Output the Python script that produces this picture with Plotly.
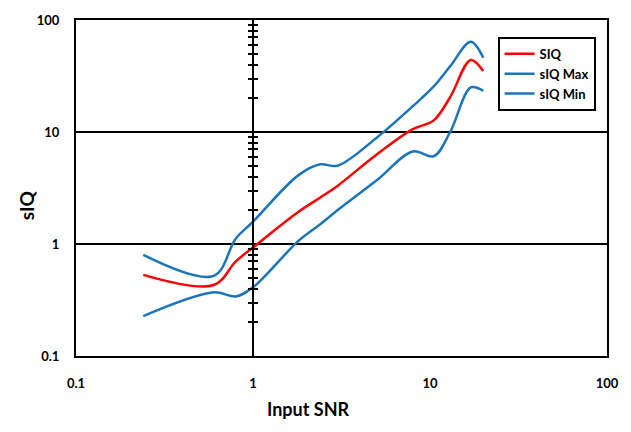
import plotly.graph_objects as go

# ---- data ----
snr = [0.24, 0.6, 0.8, 1.0, 1.8, 2.4, 3.0, 5.0, 8.0, 10.5, 13.0, 17.0, 20.0]
siq = [0.53, 0.43, 0.70, 0.93, 1.93, 2.6, 3.3, 6.3, 10.6, 12.7, 20.5, 44, 35]
siq_max = [0.80, 0.52, 1.12, 1.58, 4.1, 5.15, 5.0, 8.9, 17, 25.5, 38.6, 64, 46]
siq_min = [0.227, 0.37, 0.34, 0.41, 1.06, 1.5, 2.0, 3.7, 6.7, 6.07, 10, 25, 23.3]

tick_vals = [0.1, 1, 10, 100]
tick_text = ["0.1", "1", "10", "100"]
minor_vals = [m * d for d in (0.1, 1, 10) for m in range(2, 10)]

RED = "#FF0000"
BLUE = "#1A75BE"
FONT = "Lato"

fig = go.Figure()
fig.add_trace(go.Scatter(x=snr, y=siq, name="SIQ", mode="lines",
                         line=dict(color=RED, width=2.5, shape="spline")))
fig.add_trace(go.Scatter(x=snr, y=siq_max, name="sIQ Max", mode="lines",
                         line=dict(color=BLUE, width=2.5, shape="spline")))
fig.add_trace(go.Scatter(x=snr, y=siq_min, name="sIQ Min", mode="lines",
                         line=dict(color=BLUE, width=2.5, shape="spline")))
# invisible helpers so the crossing axis at x = 1 is drawn
for ax in ("y2", "y3"):
    fig.add_trace(go.Scatter(x=snr, y=siq, yaxis=ax, mode="lines", opacity=0,
                             showlegend=False, hoverinfo="skip",
                             line=dict(width=0)))

axis_common = dict(type="log", range=[-1, 2])

fig.update_layout(
    width=631, height=432,
    margin=dict(l=76, r=20, t=15, b=76),
    paper_bgcolor="white", plot_bgcolor="white",
    font=dict(family=FONT, color="black"),
    showlegend=True,
    xaxis=dict(**axis_common, tickvals=tick_vals, ticktext=tick_text,
               showgrid=False, zeroline=False, showline=True, mirror=True,
               linecolor="black", linewidth=2, ticks="",
               ticklabelstandoff=14,
               tickfont=dict(family=FONT, size=13, weight="bold")),
    yaxis=dict(**axis_common, tickvals=tick_vals, ticktext=tick_text,
               showgrid=True, gridcolor="black", gridwidth=2,
               zeroline=False, showline=True, mirror=True,
               linecolor="black", linewidth=2, ticks="",
               ticklabelstandoff=12,
               tickfont=dict(family=FONT, size=13, weight="bold")),
    yaxis2=dict(**axis_common, overlaying="y", anchor="free", position=1/3,
                side="left", showgrid=False, zeroline=False, showline=True,
                linecolor="black", linewidth=2, tickvals=minor_vals,
                ticks="outside", ticklen=4, tickwidth=2, tickcolor="black",
                showticklabels=False),
    yaxis3=dict(**axis_common, overlaying="y", anchor="free", position=1/3,
                side="left", showgrid=False, zeroline=False, showline=False,
                tickvals=minor_vals,
                ticks="inside", ticklen=4, tickwidth=2, tickcolor="black",
                showticklabels=False),
    legend=dict(x=0.794, y=0.95, xanchor="left", yanchor="top",
                bgcolor="white", bordercolor="black", borderwidth=2,
                font=dict(family=FONT, size=13, weight="bold"),
                itemwidth=30),
    annotations=[
        dict(text="Input SNR", xref="paper", yref="paper", x=0.437, y=-0.158,
             showarrow=False, xanchor="center", yanchor="middle",
             font=dict(family=FONT, size=18, weight="bold")),
        dict(text="sIQ", xref="paper", yref="paper", x=-0.094, y=0.449,
             showarrow=False, xanchor="center", yanchor="middle", textangle=-90,
             font=dict(family=FONT, size=19, weight="bold")),
    ],
)

fig.write_html("out.html")
